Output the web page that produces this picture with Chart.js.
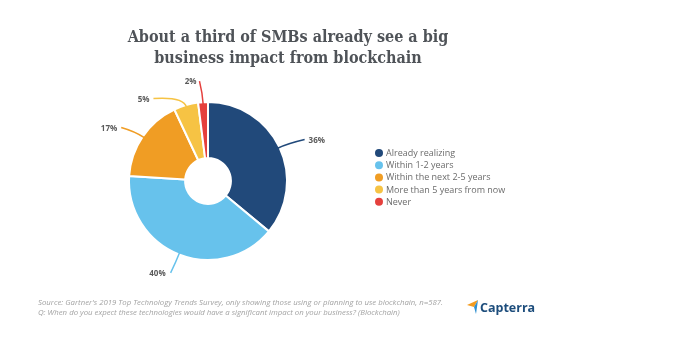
<!DOCTYPE html>
<html>
<head>
<meta charset="utf-8">
<script src="https://cdn.jsdelivr.net/npm/chart.js@4/dist/chart.umd.min.js"></script>
<style>
  html, body { margin: 0; padding: 0; background: #fff; }
  #wrap { position: relative; width: 675px; height: 339px; }
</style>
</head>
<body>
<div id="wrap"><canvas id="pie-chart" width="675" height="339"></canvas></div>
<script>
const categories = ["Already realizing", "Within 1-2 years", "Within the next 2-5 years", "More than 5 years from now", "Never"];
const shares = [36, 40, 17, 5, 2];
const sliceColors = ["#21497a", "#67c2ec", "#f09d24", "#f6c344", "#e5403d"];
const titleLines = ["About a third of SMBs already see a big", "business impact from blockchain"];
const sourceLines = [
    "Source: Gartner's 2019 Top Technology Trends Survey, only showing those using or planning to use blockchain, n=587.",
    "Q: When do you expect these technologies would have a significant impact on your business? (Blockchain)"
];

// draws title, leader lines + percent labels, legend and footer
const decorations = {
    id: 'decorations',
    afterDraw(chart) {
        const ctx = chart.ctx;
        ctx.save();

        // title
        ctx.fillStyle = "#4f5358";
        ctx.font = "bold 16px 'DejaVu Serif Condensed', 'DejaVu Serif'";
        ctx.textAlign = "center";
        ctx.textBaseline = "middle";
        ctx.fillText(titleLines[0], 288, 38);
        ctx.fillText(titleLines[1], 288, 59);

        // leader lines and labels
        const arcs = chart.getDatasetMeta(0).data;
        ctx.font = "bold 8px 'Open Sans'";
        arcs.forEach((arc, i) => {
            const mid = (arc.startAngle + arc.endAngle) / 2;
            const cx = arc.x, cy = arc.y, r = arc.outerRadius;
            const cos = Math.cos(mid), sin = Math.sin(mid);
            const x0 = cx + cos * (r - 2), y0 = cy + sin * (r - 2);
            const x1 = cx + cos * (r + 9), y1 = cy + sin * (r + 9);
            let x2, y2, tx, ty, align;
            if (Math.abs(cos) < 0.1) {
                // straight up: keep rising, label to the left of the tip
                x2 = x1 - 3; y2 = y1 - 12;
                tx = x2 - 3; ty = y2 + 1; align = "right";
            } else if (sin > 0.85) {
                // down: label to the left of the tip
                x2 = x1 - 5; y2 = y1 + 10;
                tx = x2 - 5; ty = y2 + 1; align = "right";
            } else {
                const dir = cos > 0 ? 1 : -1;
                const run = sin < -0.85 ? 30 : (dir > 0 ? 17 : 14);
                x2 = x1 + dir * run; y2 = y1 + (sin < -0.85 ? 2 : -4);
                tx = x2 + dir * 4; ty = y2 + 1; align = dir > 0 ? "left" : "right";
            }
            ctx.strokeStyle = sliceColors[i];
            ctx.lineWidth = 1.5;
            ctx.beginPath();
            ctx.moveTo(x0, y0);
            ctx.quadraticCurveTo(x1, y1, x2, y2);
            ctx.stroke();
            ctx.fillStyle = "#5a5a5a";
            ctx.textAlign = align;
            ctx.textBaseline = "middle";
            ctx.fillText(shares[i] + "%", tx, ty);
        });

        // legend
        ctx.font = "9px 'Open Sans'";
        ctx.textAlign = "left";
        categories.forEach((c, i) => {
            const y = 153 + i * 12.2;
            ctx.fillStyle = sliceColors[i];
            ctx.beginPath();
            ctx.arc(379, y, 4, 0, Math.PI * 2);
            ctx.fill();
            ctx.fillStyle = "#6b6b6b";
            ctx.fillText(c, 386, y + 0.5);
        });

        // footer
        ctx.font = "italic 7.8px 'Open Sans'";
        ctx.fillStyle = "#a3a3a3";
        ctx.fillText(sourceLines[0], 38, 303);
        ctx.fillText(sourceLines[1], 38, 313);

        // Capterra mark
        ctx.fillStyle = "#f39b1f";
        ctx.beginPath();
        ctx.moveTo(467, 305); ctx.lineTo(478, 300); ctx.lineTo(474, 307); ctx.closePath();
        ctx.fill();
        ctx.fillStyle = "#2f8fd0";
        ctx.beginPath();
        ctx.moveTo(474, 307); ctx.lineTo(478, 300); ctx.lineTo(476, 314); ctx.closePath();
        ctx.fill();
        ctx.fillStyle = "#1d4d7c";
        ctx.font = "bold 12.5px 'Open Sans'";
        ctx.fillText("Capterra", 480, 308);

        ctx.restore();
    }
};

new Chart(document.getElementById("pie-chart"), {
    type: 'doughnut',
    data: {
        labels: categories,
        datasets: [{
            data: shares,
            backgroundColor: sliceColors,
            borderColor: "#ffffff",
            borderWidth: 2
        }]
    },
    options: {
        responsive: false,
        animation: { duration: 0 },
        cutout: '29%',
        layout: { padding: { left: 128, right: 387, top: 101, bottom: 78 } },
        plugins: {
            legend: { display: false },
            tooltip: { enabled: false }
        }
    },
    plugins: [decorations]
});
</script>
</body>
</html>
